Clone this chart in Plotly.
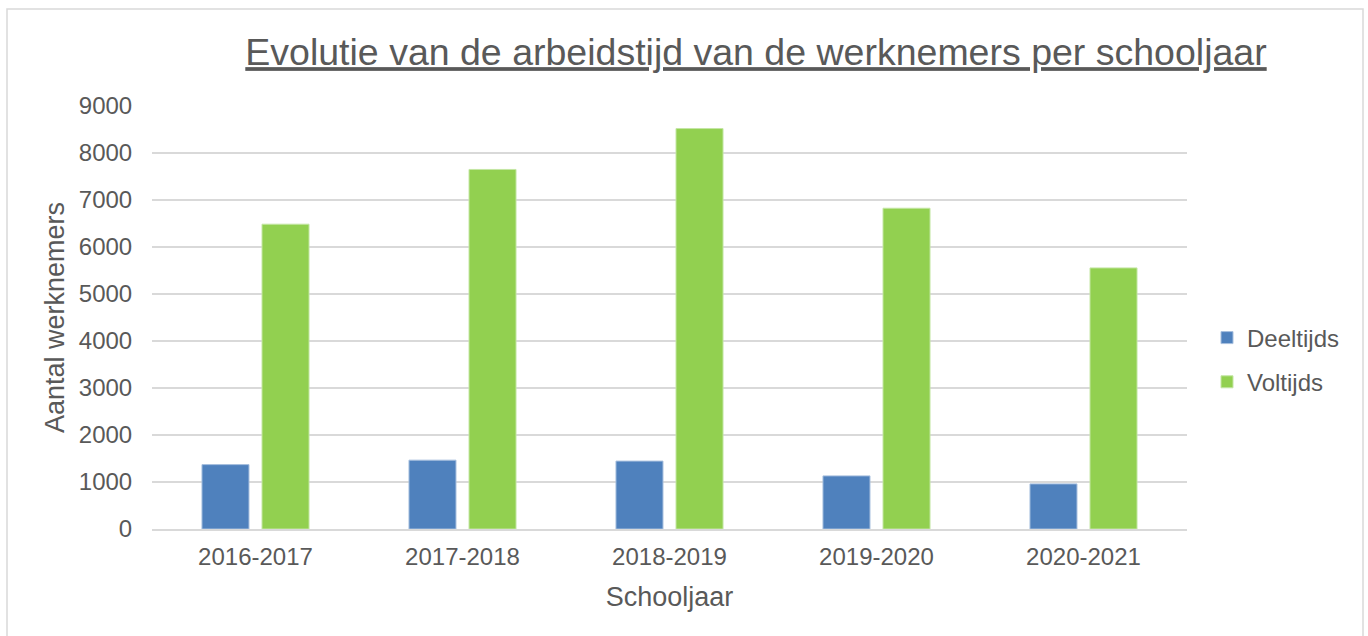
import plotly.graph_objects as go

# ==================== DATA ====================

SCHOOLJAREN = ["2016-2017", "2017-2018", "2018-2019", "2019-2020", "2020-2021"]
DEELTIJDS = [1370, 1465, 1445, 1130, 960]
VOLTIJDS = [6485, 7650, 8520, 6825, 5555]

FONT = "Arial, Liberation Sans, sans-serif"
TEXT_COLOR = "#595959"
GRID_COLOR = "#D9D9D9"

W, H = 1368, 636
M_L, M_R, M_T, M_B = 152, 181, 106, 107
PW, PH = W - M_L - M_R, H - M_T - M_B


def px_x(x):
  return (x - M_L) / PW


def px_y(y):
  return (H - M_B - y) / PH


fig = go.Figure()

fig.add_trace(go.Bar(
  x=SCHOOLJAREN, y=DEELTIJDS, name="Deeltijds", legendgroup="d",
  marker=dict(color="#4F81BD", line=dict(color="#A7BFDE", width=1)),
))
fig.add_trace(go.Bar(
  x=SCHOOLJAREN, y=VOLTIJDS, name="Voltijds", legendgroup="v",
  marker=dict(color="#92D050", line=dict(color="#C4E6A4", width=1)),
))

# chart area border
fig.add_shape(
  type="rect", xref="paper", yref="paper",
  x0=px_x(7), x1=px_x(1363), y0=px_y(660), y1=px_y(9),
  line=dict(color=GRID_COLOR, width=1.5), layer="below",
)

fig.update_layout(
  width=W, height=H,
  margin=dict(l=M_L, r=M_R, t=M_T, b=M_B),
  paper_bgcolor="white", plot_bgcolor="white",
  font=dict(family=FONT, size=24, color=TEXT_COLOR),
  barmode="group", bargap=0.42, bargroupgap=0.217,
  title=dict(
    text="<u>Evolutie van de arbeidstijd van de werknemers per schooljaar</u>",
    x=756 / W, xanchor="center", xref="container",
    y=1 - 52 / H, yanchor="middle", yref="container",
    font=dict(size=37.5, color=TEXT_COLOR),
  ),
  legend=dict(
    x=px_x(1207), xanchor="left", y=px_y(360), yanchor="middle",
    font=dict(size=24), itemwidth=30, tracegroupgap=10,
    traceorder="grouped",
  ),
  xaxis=dict(
    showline=True, linecolor=GRID_COLOR, linewidth=1.5,
    ticks="outside", ticklen=5, tickcolor="rgba(0,0,0,0)",
    title=dict(text="Schooljaar", font=dict(size=27), standoff=19),
  ),
  yaxis=dict(
    range=[0, 9000], dtick=1000,
    showgrid=True, gridcolor=GRID_COLOR, gridwidth=1.5,
    zeroline=False,
    ticks="outside", ticklen=14, tickcolor="rgba(0,0,0,0)",
    title=dict(text="Aantal werknemers", font=dict(size=27), standoff=6),
  ),
)

# page body has a default margin; drop it so the figure sits at 0,0
fig.write_html(
  "out.html",
  config={"displayModeBar": False},
  post_script="document.body.style.margin='0';",
)
